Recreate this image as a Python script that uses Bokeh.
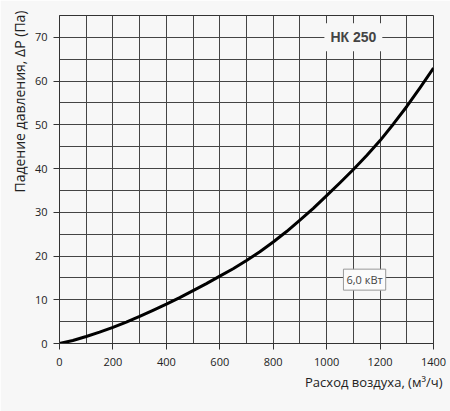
from bokeh.plotting import figure
from bokeh.models import FixedTicker, Label, Title, Range1d
from bokeh.embed import file_html
from bokeh.resources import INLINE

flow = [0, 50, 100, 150, 200, 250, 300, 350, 400, 450, 500, 550, 600, 650, 700,
        750, 800, 850, 900, 950, 1000, 1050, 1100, 1150, 1200, 1250, 1300, 1350, 1400]
dp = [0, 0.7, 1.6, 2.6, 3.7, 4.9, 6.2, 7.6, 9.0, 10.5, 12.1, 13.7, 15.4, 17.1, 19.0,
      21.0, 23.2, 25.6, 28.2, 30.9, 33.8, 36.75, 39.8, 43.0, 46.4, 50.2, 54.2, 58.5, 63.0]
x_ticks = [0, 200, 400, 600, 800, 1000, 1200, 1400]
y_ticks = [0, 10, 20, 30, 40, 50, 60, 70]
x_grid = list(range(0, 1401, 100))
y_grid = list(range(0, 76, 5))
model_label = "НК 250"
power_label = "6,0 кВт"

BG = "#f7f7f7"
FONT = "Open Sans"

p = figure(width=450, height=411, output_backend="svg", toolbar_location=None,
           x_range=Range1d(0, 1400), y_range=Range1d(0, 75),
           min_border_left=59, min_border_right=17, min_border_top=15, min_border_bottom=68)
p.background_fill_color = BG
p.border_fill_color = BG
p.outline_line_color = "#333333"
p.outline_line_width = 1

for g, t in ((p.xgrid[0], x_grid), (p.ygrid[0], y_grid)):
    g.ticker = FixedTicker(ticks=t)
    g.grid_line_color = "#444444"
    g.grid_line_width = 1

p.xaxis.ticker = FixedTicker(ticks=x_ticks)
p.yaxis.ticker = FixedTicker(ticks=y_ticks)
for ax in (p.xaxis[0], p.yaxis[0]):
    ax.axis_line_color = "#333333"
    ax.major_tick_line_color = "#333333"
    ax.major_tick_out = 6
    ax.major_tick_in = 0
    ax.minor_tick_line_color = None
    ax.major_label_text_font = FONT
    ax.major_label_text_font_size = "11px"
    ax.major_label_text_color = "#222222"
p.xaxis.major_label_standoff = 8
p.yaxis.major_label_standoff = 6

p.line(flow, dp, line_color="black", line_width=3, line_join="round")

p.add_layout(Label(x=1100, y=70, text=model_label, text_font="Liberation Sans",
                   text_font_style="bold", text_font_size="14px", text_align="center",
                   text_baseline="middle", background_fill_color=BG,
                   padding=6))
p.add_layout(Label(x=1142, y=14.6, text=power_label, text_font=FONT,
                   text_font_size="11px", text_align="center", text_baseline="middle",
                   background_fill_color="#fbfbfb", border_line_color="#999999",
                   padding=3))

p.add_layout(Title(text="Расход воздуха, (м³/ч)", align="right", offset=-9, standoff=4,
                   text_font=FONT, text_font_size="13px", text_font_style="normal",
                   text_color="#222222"), "below")
p.add_layout(Title(text="Падение давления, ΔP (Па)", align="right", offset=-5, standoff=6,
                   text_font=FONT, text_font_size="14px", text_font_style="normal",
                   text_color="#222222"), "left")

open("out.html", "w").write(file_html(p, INLINE))
